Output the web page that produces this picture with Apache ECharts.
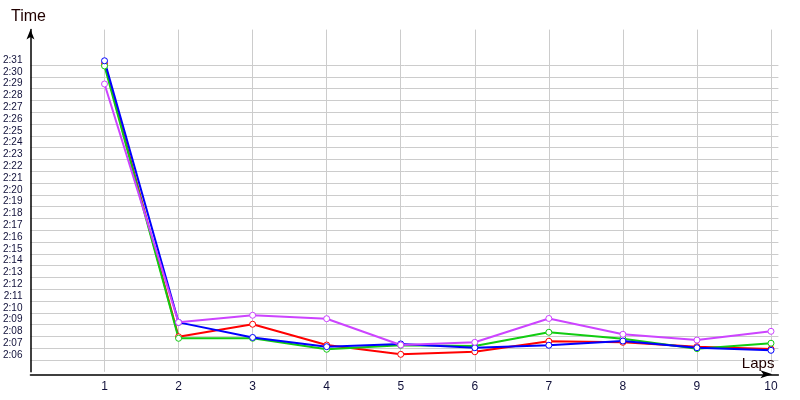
<!DOCTYPE html>
<html>
<head>
<meta charset="utf-8">
<script src="https://cdn.jsdelivr.net/npm/echarts@6/dist/echarts.min.js"></script>
<style>html,body{margin:0;padding:0;background:#fff;}#c{width:800px;height:400px;}</style>
</head>
<body>
<div id="c"></div>
<script>
// Laps (x values)
const laps = [1, 2, 3, 4, 5, 6, 7, 8, 9, 10];
// Lap times in seconds (2:00 = 120)
const redTimes     = [151.1, 127.97, 129.03, 127.27, 126.48, 126.70, 127.59, 127.50, 127.13, 126.93];
const greenTimes   = [150.92, 127.84, 127.84, 126.91, 127.25, 127.19, 128.35, 127.81, 126.96, 127.42];
const blueTimes    = [151.36, 129.19, 127.91, 127.13, 127.36, 127.04, 127.25, 127.61, 127.04, 126.82];
const magentaTimes = [149.39, 129.19, 129.79, 129.50, 127.27, 127.50, 129.52, 128.18, 127.69, 128.43];
// y tick label range (seconds)
const yLabelMin = 126, yLabelMax = 151;

function pairs(vals) { return laps.map((l, i) => [l, vals[i]]); }
function fmtTime(v) {
  const m = Math.floor(v / 60), s = Math.round(v - m * 60);
  return m + ':' + (s < 10 ? '0' + s : s);
}

const yMin = 125, yMax = 154;
const gridColors = [];
for (let v = yMin; v <= yMax; v++) {
  gridColors.push(v >= yLabelMin && v <= yLabelMax ? '#cccccc' : 'rgba(0,0,0,0)');
}

const chart = echarts.init(document.getElementById('c'), null, {renderer: 'canvas'});
function mk(name, color, vals) {
  return {
    name: name, type: 'line', data: pairs(vals),
    symbol: 'circle', symbolSize: 6,
    lineStyle: {color: color, width: 2},
    itemStyle: {color: '#ffffff', borderColor: color, borderWidth: 1},
    emphasis: {disabled: true}
  };
}
chart.setOption({
  animation: false,
  backgroundColor: '#ffffff',
  title: {
    text: 'Time', left: 6, top: 4,
    textStyle: {fontFamily: 'Liberation Sans', fontSize: 16, fontWeight: 'normal', color: '#200000'}
  },
  grid: {left: 30, right: 21.6, top: 29.6, bottom: 28.2, containLabel: false},
  xAxis: {
    type: 'value', min: 0, max: 10.1, interval: 1,
    offset: 2.5,
    name: 'Laps', nameLocation: 'end', nameGap: -4,
    nameTextStyle: {fontFamily: 'Liberation Sans', fontSize: 15, color: '#200000', align: 'right', verticalAlign: 'bottom', padding: [0, 0, 3, 0]},
    axisLine: {show: true, lineStyle: {color: '#000', width: 1.5}, symbol: ['none', 'arrow'], symbolSize: [6, 12], symbolOffset: [0, -6]},
    axisTick: {show: false},
    axisLabel: {
      margin: 6, fontFamily: 'Liberation Sans', fontSize: 12, color: '#10103a',
      formatter: v => (v >= 1 && v <= 10 && v % 1 === 0) ? String(v) : ''
    },
    splitLine: {show: true, showMinLine: false, showMaxLine: false, lineStyle: {color: '#cccccc', width: 1}}
  },
  yAxis: {
    type: 'value', min: yMin, max: yMax, interval: 1,
    axisLine: {show: true, lineStyle: {color: '#000', width: 1.5}, symbol: ['none', 'arrow'], symbolSize: [6, 10]},
    axisTick: {show: false},
    axisLabel: {
      margin: 8, align: 'right', verticalAlign: 'bottom', lineHeight: 10,
      fontFamily: 'Liberation Sans', fontSize: 10, color: '#10103a',
      formatter: v => (v >= yLabelMin && v <= yLabelMax && v % 1 === 0) ? fmtTime(v) : ''
    },
    splitLine: {show: true, showMinLine: true, showMaxLine: true, lineStyle: {color: gridColors, width: 1}}
  },
  series: [
    mk('Red', '#ff0000', redTimes),
    mk('Green', '#11cc11', greenTimes),
    mk('Blue', '#0000ff', blueTimes),
    mk('Magenta', '#cc44ff', magentaTimes)
  ]
});
</script>
</body>
</html>
